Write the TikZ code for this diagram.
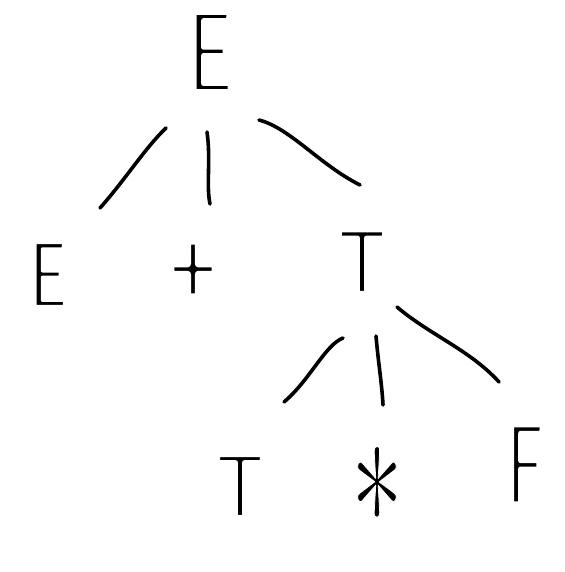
\documentclass[tikz,border=0pt]{standalone}
\usepackage{fontspec}
\newfontfamily\hand{Fira Sans}
% thin the glyphs by stroking their outlines in white
\newcommand\thinglyph[2]{\special{pdf:literal direct 2 Tr #1 w 1 j 1 G}#2}
\tikzset{
  sym/.style={inner sep=0pt, outer sep=0pt, anchor=base, transform shape},
  edge/.style={line width=3.6pt, line cap=round, line join=round}
}
\begin{document}
\begin{tikzpicture}[x=1pt,y=-1pt]
\useasboundingbox[fill=white] (0,0) rectangle (564,572);
% symbols
\node[sym, xscale=0.8, font=\hand\fontsize{116}{116}\selectfont] (E0) at (210,92) {\thinglyph{5.5}{E}};
\node[sym, xscale=0.82, font=\hand\fontsize{94}{94}\selectfont] (E1) at (48,307) {\thinglyph{4}{E}};
\node[sym, yscale=1.3, font=\hand\fontsize{116}{116}\selectfont] (plus) at (193,319) {\thinglyph{6}{+}};
\node[sym, font=\hand\fontsize{91}{91}\selectfont] (T1) at (362,293) {\thinglyph{4.2}{T}};
\node[sym, font=\hand\fontsize{90}{90}\selectfont] (T2) at (240,517) {\thinglyph{4.2}{T}};
\node[sym, xscale=10.5, yscale=16.5] (star) at (377,523) {\thinglyph{0.07}{$\ast$}};
\node[sym, xscale=0.7, font=\hand\fontsize{115}{115}\selectfont] (F) at (524,504) {\thinglyph{5}{F}};
% connector ends
\coordinate (a1) at (166,128); \coordinate (a2) at (100,208);
\coordinate (b1) at (207,132); \coordinate (b2) at (210,204);
\coordinate (c1) at (259,120); \coordinate (c2) at (360,185);
\coordinate (d1) at (343,338); \coordinate (d2) at (284,402);
\coordinate (e1) at (376,336); \coordinate (e2) at (383,405);
\coordinate (f1) at (397,307); \coordinate (f2) at (499,382);
% connectors
\draw[edge] (a1) .. controls (145,148) and (125,180) .. (a2);
\draw[edge] (b1) .. controls (211,160) and (206,185) .. (b2);
\draw[edge] (c1) .. controls (290,128) and (320,165) .. (c2);
\draw[edge] (d1) .. controls (325,345) and (310,380) .. (d2);
\draw[edge] (e1) .. controls (378,360) and (382,385) .. (e2);
\draw[edge] (f1) .. controls (430,335) and (470,350) .. (f2);
\end{tikzpicture}
\end{document}
